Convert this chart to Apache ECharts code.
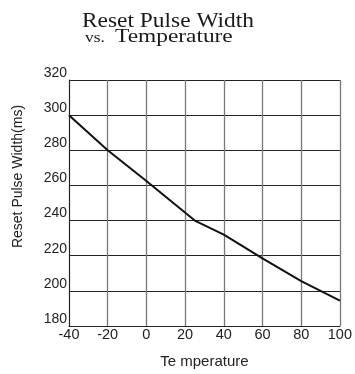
<!DOCTYPE html>
<html><head><meta charset="utf-8">
<script src="https://cdn.jsdelivr.net/npm/echarts@6/dist/echarts.min.js"></script>
<style>html,body{margin:0;padding:0;background:#fff}#c{width:355px;height:374px}</style>
</head><body><div id="c"></div>
<script>
const temps = [-40, -20, 0, 25, 40, 60, 80, 100];
const widths = [300, 280, 262.5, 240, 232, 218.5, 205.5, 194.5];
const xTicks = [-40, -20, 0, 20, 40, 60, 80, 100];
const yTicks = [180, 200, 220, 240, 260, 280, 300, 320];
const titleLine1 = 'Reset Pulse Width';
const titleVs = 'vs.';
const titleLine2 = 'Temperature';

const serif = 'Liberation Serif';
const chart = echarts.init(document.getElementById('c'), null, {renderer: 'canvas'});
chart.setOption({
  animation: false,
  backgroundColor: '#fff',
  graphic: [
    {type: 'text', x: 82, y: 22, scaleX: 1.17,
     style: {text: titleLine1, font: '20px "' + serif + '"', fill: '#1a1a1a', textAlign: 'left', textVerticalAlign: 'middle'}},
    {type: 'text', x: 85, y: 38, scaleX: 1.17,
     style: {text: titleVs, font: '15px "' + serif + '"', fill: '#1a1a1a', textAlign: 'left', textVerticalAlign: 'middle'}},
    {type: 'text', x: 115, y: 37, scaleX: 1.23,
     style: {text: titleLine2, font: '19px "' + serif + '"', fill: '#1a1a1a', textAlign: 'left', textVerticalAlign: 'middle'}}
  ],
  grid: {left: 69, right: 13, top: 80, bottom: 46, containLabel: false},
  xAxis: {
    type: 'value', min: xTicks[0], max: xTicks[xTicks.length - 1], interval: 20,
    name: 'Te mperature', nameLocation: 'middle', nameGap: 28,
    nameTextStyle: {fontFamily: 'Liberation Sans', fontSize: 15, color: '#222'},
    axisLine: {onZero: false, lineStyle: {color: '#222', width: 1}},
    axisTick: {show: false},
    axisLabel: {fontFamily: 'Liberation Sans', fontSize: 14.5, color: '#222', margin: 1},
    splitLine: {show: true, lineStyle: {color: '#777', width: 1.3}}
  },
  yAxis: {
    type: 'value', min: yTicks[0], max: yTicks[yTicks.length - 1], interval: 20,
    name: 'Reset Pulse Width(ms)', nameLocation: 'middle', nameGap: 44,
    nameTextStyle: {fontFamily: 'Liberation Sans', fontSize: 14, color: '#222', padding: [0, 0, 0, 53]},
    axisLine: {onZero: false, lineStyle: {color: '#222', width: 1}},
    axisTick: {show: false},
    axisLabel: {fontFamily: 'Liberation Sans', fontSize: 14, color: '#222', margin: 2, verticalAlign: 'bottom'},
    splitLine: {show: true, lineStyle: {color: '#222', width: 1}}
  },
  series: [{
    type: 'line', data: temps.map((t, i) => [t, widths[i]]),
    showSymbol: false, lineStyle: {color: '#111', width: 2}, smooth: false
  }]
});
</script></body></html>
